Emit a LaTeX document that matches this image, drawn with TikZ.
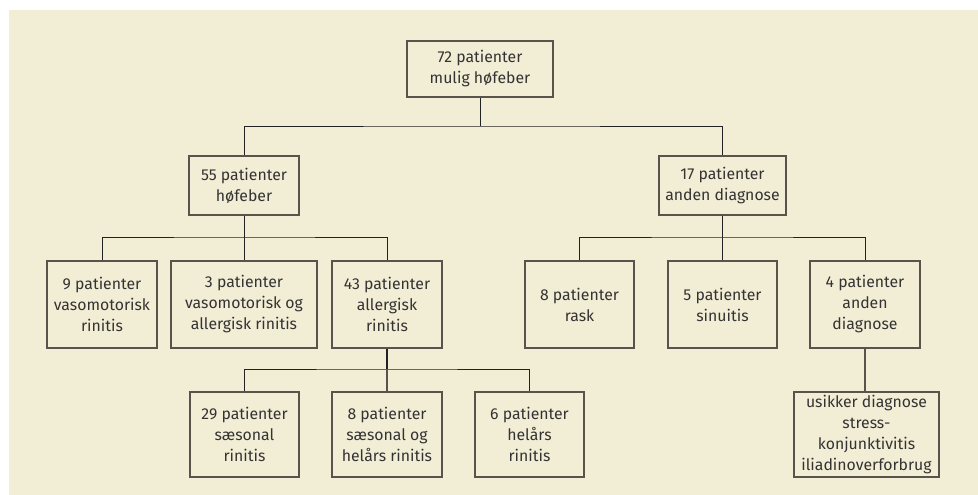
\documentclass[tikz,border=0pt]{standalone}
\usepackage{fontspec}
\setmainfont{Fira Sans}
\begin{document}
\begin{tikzpicture}[x=1pt,y=-1pt,
  box/.style={draw=boxc,line width=1.2pt,fill=bgc,align=center,inner sep=0pt,
    text=txtc,font=\fontsize{15.8}{21}\selectfont},
  link/.style={draw=linec,line width=0.9pt}]
\definecolor{bgc}{HTML}{F2EDD5}
\definecolor{boxc}{HTML}{58544C}
\definecolor{linec}{HTML}{222222}
\definecolor{txtc}{HTML}{333333}
\useasboundingbox (0,0) rectangle (978,495);
\fill[bgc] (9,10) rectangle (978,495);
\node[box,minimum width=146pt,minimum height=56pt] (top) at (480,69) {72 patienter\\mulig høfeber};
\node[box,minimum width=110pt,minimum height=59pt] (n55) at (244,185.5) {55 patienter\\høfeber};
\node[box,minimum width=127pt,minimum height=59pt] (n17) at (722.5,185.5) {17 patienter\\anden diagnose};
\node[box,minimum width=110pt,minimum height=87pt] (n9) at (102,304.5) {9 patienter\\vasomotorisk\\rinitis};
\node[box,minimum width=146pt,minimum height=87pt] (n3) at (244,304.5) {3 patienter\\vasomotorisk og\\allergisk rinitis};
\node[box,minimum width=110pt,minimum height=87pt] (n43) at (387,304.5) {43 patienter\\allergisk\\rinitis};
\node[box,minimum width=109pt,minimum height=87pt] (n8r) at (579.5,304.5) {8 patienter\\rask};
\node[box,minimum width=109pt,minimum height=87pt] (n5) at (722.5,304.5) {5 patienter\\sinuitis};
\node[box,minimum width=110pt,minimum height=87pt] (n4) at (865,304.5) {4 patienter\\anden\\diagnose};
\node[box,minimum width=109pt,minimum height=85pt] (n29) at (244.5,434.5) {29 patienter\\sæsonal\\rinitis};
\node[box,minimum width=110pt,minimum height=85pt] (n8s) at (387,434.5) {8 patienter\\sæsonal og\\helårs rinitis};
\node[box,minimum width=109pt,minimum height=85pt] (n6) at (529.5,434.5) {6 patienter\\helårs\\rinitis};
\node[box,minimum width=145pt,minimum height=85pt] (nu) at (866.5,434.5) {usikker diagnose\\stress-\\konjunktivitis\\iliadinoverforbrug};
\coordinate (j1) at (480,126);
\coordinate (j2) at (244,237);
\coordinate (j3) at (722.5,237);
\coordinate (j4) at (387,369);
\draw[link] (top.south) -- (j1);
\draw[link] (n55.north) |- (j1) -| (n17.north);
\draw[link] (n55.south) -- (j2);
\draw[link] (n9.north) |- (j2) -| (n43.north);
\draw[link] (j2) -- (n3.north);
\draw[link] (n17.south) -- (j3);
\draw[link] (n8r.north) |- (j3) -| (n4.north);
\draw[link] (j3) -- (n5.north);
\draw[link,line width=1.8pt] (n43.south) -- (j4);
\draw[link] (n29.north) |- (j4) -| (n6.north);
\draw[draw=boxc,line width=1.2pt] (j4) -- (n8s.north);
\draw[draw=boxc,line width=1.2pt] (n4.south) -- (n4.south |- nu.north);
\end{tikzpicture}
\end{document}
